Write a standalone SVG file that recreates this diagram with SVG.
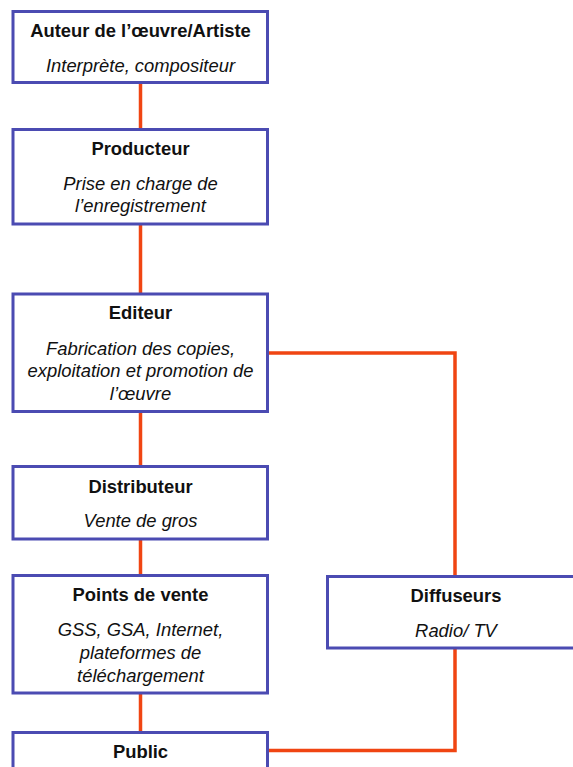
<svg xmlns="http://www.w3.org/2000/svg" width="573" height="767" viewBox="0 0 573 767">
<style>
.box{fill:#fff;stroke:#4b4bb2;stroke-width:3}
.con{fill:none;stroke:#f04512;stroke-width:3.5}
.t{font-family:"Liberation Sans",Arial,sans-serif;font-size:18.4px;fill:#111;text-anchor:middle}
.b{font-weight:bold}
.i{font-style:italic}
</style>
<rect width="573" height="767" fill="#fff"/>
<g id="connectors">
<line class="con" x1="140.5" y1="83" x2="140.5" y2="129"/>
<line class="con" x1="140.5" y1="224" x2="140.5" y2="294"/>
<line class="con" x1="140.5" y1="412" x2="140.5" y2="466"/>
<line class="con" x1="140.5" y1="539" x2="140.5" y2="575"/>
<line class="con" x1="140.5" y1="693" x2="140.5" y2="732"/>
<polyline class="con" points="267.5,353 455,353 455,576"/>
<polyline class="con" points="455,648 455,750.5 267.5,750.5"/>
</g>
<g id="auteur">
<rect class="box" x="13" y="11.5" width="254.5" height="71"/>
<text class="t b" x="140.5" y="37">Auteur de l’œuvre/Artiste</text>
<text class="t i" x="140.5" y="72">Interprète, compositeur</text>
</g>
<g id="producteur">
<rect class="box" x="13" y="129.5" width="254.5" height="94.5"/>
<text class="t b" x="140.5" y="155">Producteur</text>
<text class="t i" x="140.5" y="190">Prise en charge de</text>
<text class="t i" x="140.5" y="212">l’enregistrement</text>
</g>
<g id="editeur">
<rect class="box" x="13" y="294" width="254.5" height="117.5"/>
<text class="t b" x="140.5" y="319">Editeur</text>
<text class="t i" x="140.5" y="355">Fabrication des copies,</text>
<text class="t i" x="140.5" y="377">exploitation et promotion de</text>
<text class="t i" x="140.5" y="400">l’œuvre</text>
</g>
<g id="distributeur">
<rect class="box" x="13" y="466.5" width="254.5" height="72.5"/>
<text class="t b" x="140.5" y="493">Distributeur</text>
<text class="t i" x="140.5" y="527">Vente de gros</text>
</g>
<g id="points-de-vente">
<rect class="box" x="13" y="575.5" width="254.5" height="117.5"/>
<text class="t b" x="140.5" y="601">Points de vente</text>
<text class="t i" x="140.5" y="636">GSS, GSA, Internet,</text>
<text class="t i" x="140.5" y="659">plateformes de</text>
<text class="t i" x="140.5" y="682">téléchargement</text>
</g>
<g id="diffuseurs">
<rect class="box" x="327.5" y="576.5" width="254.5" height="71.5"/>
<text class="t b" x="456" y="602">Diffuseurs</text>
<text class="t i" x="456" y="637">Radio/ TV</text>
</g>
<g id="public">
<rect class="box" x="13" y="732.5" width="254.5" height="60"/>
<text class="t b" x="140.5" y="758">Public</text>
</g>
</svg>
